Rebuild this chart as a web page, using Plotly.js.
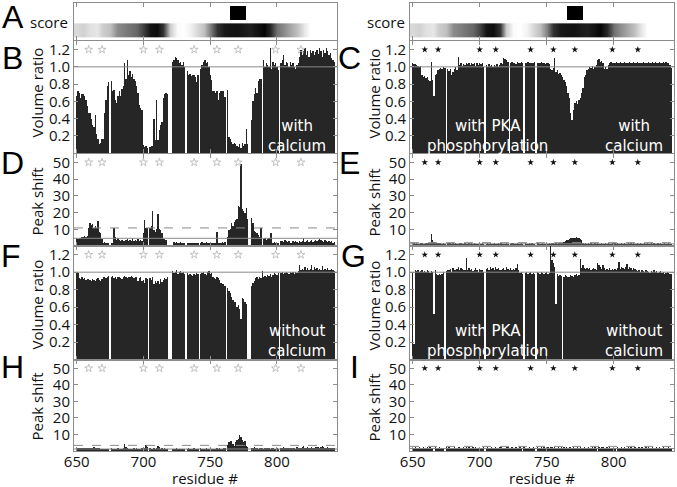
<!DOCTYPE html>
<html>
<head>
<meta charset="utf-8">
<script src="https://cdn.plot.ly/plotly-3.0.1.min.js"></script>
<style>
  body { margin: 0; background: #fff; }
  #chart { width: 677px; height: 487px; }
</style>
</head>
<body>
<div id="chart"></div>
<script>
'use strict';

// ---- data ----
const firstResidue = 650;

// A: sequence score along the construct, sampled every 5 residues (0 = white, 1 = black)
const scoreResidues = [650,655,660,665,670,675,680,685,690,695,700,705,710,715,720,725,730,735,740,745,
                       750,755,760,765,770,775,780,785,790,795,800,805,810,815,820,825,830,835,840];
const scoreValues = [0.15,0.18,0.12,0.10,0.20,0.25,0.45,0.50,0.55,0.60,0.75,0.92,0.95,0.80,0.20,0.02,0.00,0.05,0.15,0.25,
                     0.50,0.80,0.90,0.92,0.93,0.90,0.88,0.93,0.98,0.85,0.55,0.45,0.35,0.25,0.10,0.00,0.00,0.00,0.00];
const motifSpan = [765, 777];

// sites marked with stars
const starResidues = [659, 669, 700, 712, 738, 755, 771, 799, 818];

// B: volume ratio, with calcium (residues 650..843)
const volWithCa = [
  0.66,0.72,0.70,0.64,0.68,0.69,0.66,0.62,0.55,0.46,
  0.46,0.40,0.33,0.30,0.44,0.22,0.16,0.10,0.12,0.16,
  0.16,0.46,0.62,0.78,0.82,null,0.84,0.72,0.73,0.62,
  0.58,0.66,0.72,0.66,0.74,0.78,1.04,0.86,1.08,0.90,
  0.95,0.88,0.92,0.86,0.84,0.78,0.70,0.56,0.52,0.50,
  0.09,0.07,0.08,0.06,null,0.07,0.08,0.08,0.40,0.15,
  0.62,0.15,0.27,0.33,0.36,0.64,0.68,0.70,0.69,null,
  null,null,1.06,1.08,1.12,1.10,1.08,1.04,1.06,1.02,
  1.06,1.00,null,0.95,0.90,0.92,0.89,0.90,0.90,0.88,
  0.82,0.90,null,0.98,1.02,1.06,1.08,1.04,1.06,1.00,
  0.90,0.85,0.72,0.72,0.70,0.72,0.62,0.70,0.72,0.72,
  0.72,0.65,null,0.73,0.19,0.16,0.13,0.11,0.12,0.10,
  0.08,0.07,0.10,0.06,0.12,0.08,0.11,0.28,0.10,null,
  null,0.38,0.60,0.68,0.76,0.70,0.84,0.86,0.86,null,
  1.08,1.00,1.04,1.02,1.00,1.22,0.98,1.06,1.02,1.04,
  1.00,0.96,null,1.04,1.08,1.14,1.02,1.06,1.04,1.00,
  1.06,1.02,1.04,1.00,0.98,1.02,1.04,1.12,1.20,1.14,
  1.18,1.22,1.14,1.18,1.12,1.20,1.16,1.18,1.14,1.17,
  1.19,1.15,1.22,1.18,1.12,1.20,1.16,1.22,1.18,1.14,
  1.16,1.10,1.08,1.06
];

// C: volume ratio, PKA phosphorylated, with calcium
const volPkaWithCa = [
  1.04,1.03,1.03,1.02,1.01,1.00,1.01,0.90,0.88,0.89,
  0.87,0.88,0.85,0.84,1.06,0.85,0.66,0.90,0.92,0.96,
  0.98,0.99,0.98,1.00,0.99,null,0.97,0.95,0.98,0.90,
  0.94,0.98,1.00,0.96,1.12,1.02,1.04,1.01,1.03,1.02,
  1.04,1.03,1.05,1.02,1.04,1.03,1.05,1.01,1.04,1.02,
  1.05,1.03,1.04,1.00,null,1.02,1.00,1.03,1.01,1.02,
  1.00,1.02,1.01,1.03,1.00,1.02,1.04,1.03,1.10,1.09,
  1.08,1.06,null,1.05,1.06,1.04,1.05,1.03,1.06,1.05,
  1.04,1.06,1.05,null,1.05,1.04,1.06,1.05,1.04,1.05,
  1.04,1.06,null,1.05,1.04,1.05,1.06,1.04,1.05,1.03,
  1.04,1.05,1.03,0.98,0.96,0.99,1.10,0.94,0.96,0.92,
  0.93,0.90,0.88,0.85,0.82,0.78,0.70,0.64,0.46,0.38,
  0.50,0.58,0.60,0.57,0.62,0.64,0.70,0.76,0.88,0.90,
  0.96,0.98,1.00,0.99,1.01,0.98,1.00,1.02,1.08,1.09,
  1.06,1.07,1.04,0.98,1.00,0.97,1.02,1.05,1.06,1.04,
  1.05,1.04,1.06,1.05,1.04,1.06,1.05,1.04,1.06,1.05,
  1.04,1.05,1.06,1.04,1.05,1.06,1.05,1.04,1.06,1.05,
  1.05,1.04,1.06,1.05,1.04,1.05,1.06,1.05,1.04,1.06,
  1.05,1.06,1.04,1.05,1.06,1.05,1.04,1.06,1.05,1.06,
  1.05,1.04,1.02,0.99
];

// D: peak shift, with calcium
const shiftWithCa = [
  4.5,4.0,5.0,4.5,5.5,5.5,6.0,5.5,6.0,11.0,
  13.5,12.5,13.0,11.0,12.0,10.5,15.0,8.5,8.0,4.0,
  2.0,2.5,1.5,2.0,1.5,null,2.0,2.0,10.5,5.5,
  3.5,5.0,3.5,3.0,3.5,3.0,3.0,3.5,4.0,3.0,
  3.5,3.0,4.5,3.0,3.5,3.0,4.0,3.0,3.5,3.0,
  8.0,15.5,11.0,10.5,null,11.0,12.0,21.0,9.5,8.5,
  10.0,19.0,10.0,9.5,8.0,4.0,4.0,3.5,null,null,
  null,null,null,2.5,2.0,2.5,2.0,1.8,2.5,2.0,
  1.8,2.0,null,1.5,2.0,1.5,1.8,1.5,2.0,1.5,
  2.0,1.8,null,2.0,2.5,1.5,2.0,2.5,2.0,1.5,
  1.5,2.0,1.5,1.5,2.0,8.5,2.0,1.5,2.0,2.5,
  2.0,2.5,null,5.5,9.5,10.0,13.5,12.0,14.5,15.5,
  16.0,24.0,23.5,49.0,22.0,21.0,20.0,22.5,16.0,null,
  null,16.5,14.0,9.0,8.5,8.0,6.5,5.5,11.0,null,
  4.0,4.5,3.5,4.0,5.0,8.0,7.5,2.0,2.5,1.5,
  2.0,1.5,null,3.0,3.0,2.5,3.5,3.0,2.5,3.0,
  2.0,1.5,3.0,2.5,3.0,2.5,2.0,3.0,2.5,3.0,
  4.5,2.5,3.0,3.5,2.5,3.0,3.5,2.5,3.0,3.5,
  3.0,3.5,4.0,3.5,3.0,2.5,3.5,3.0,2.5,3.0,
  2.5,3.0,2.0,2.5
];

// E: peak shift, PKA phosphorylated, with calcium
const shiftPkaWithCa = [
  1.2,1.5,1.3,1.6,1.4,1.2,1.5,1.8,1.4,1.3,
  1.6,1.5,1.8,2.0,7.0,3.5,2.2,1.8,2.0,1.6,
  1.5,1.8,1.4,1.6,1.3,null,1.5,1.7,1.6,1.4,
  1.5,1.3,1.6,1.4,1.2,1.5,1.7,1.4,1.3,1.6,
  1.4,1.2,1.5,1.3,1.6,1.4,1.5,1.3,1.2,1.4,
  1.6,1.3,1.5,1.4,null,1.2,1.5,1.3,1.6,1.4,
  1.3,1.5,1.2,1.4,1.6,1.3,1.5,1.4,1.2,1.3,
  1.5,1.4,null,1.3,1.5,1.6,1.4,1.2,1.5,1.3,
  1.4,1.6,1.3,null,1.5,1.4,1.2,1.6,1.3,1.5,
  1.4,1.3,null,1.5,1.6,1.4,1.3,1.5,1.2,1.4,
  1.6,1.3,1.5,1.4,1.7,1.5,1.3,1.6,1.4,1.5,
  1.6,1.8,2.0,2.5,3.0,3.8,3.5,4.2,4.6,4.8,
  5.0,4.8,5.2,5.0,4.6,4.4,3.5,1.5,1.3,1.6,
  1.4,1.5,1.3,1.6,1.4,1.2,1.5,1.3,1.6,1.4,
  1.3,1.5,1.4,1.2,1.6,1.3,1.5,1.4,1.3,1.5,
  1.4,1.6,1.3,1.5,1.2,1.4,1.6,1.3,1.5,1.4,
  1.3,1.5,1.4,1.6,1.2,1.5,1.3,1.4,1.6,1.3,
  1.5,1.4,1.2,1.6,1.3,1.5,1.4,1.3,1.6,1.4,
  1.5,1.3,1.4,1.6,1.2,1.5,1.4,1.3,1.5,1.4,
  1.3,1.5,1.4,1.2
];

// F: volume ratio, without calcium
const volNoCa = [
  1.00,0.99,0.93,0.92,0.94,0.92,0.93,0.91,0.92,0.92,
  0.91,0.90,0.92,0.91,0.90,0.92,0.93,0.91,0.90,0.92,
  0.94,0.95,0.93,0.95,0.96,null,0.95,0.96,0.93,0.94,
  0.92,0.94,0.95,0.93,0.92,0.94,0.96,0.95,0.93,0.94,
  0.95,0.96,0.94,0.93,0.95,0.94,0.90,0.93,0.94,0.90,
  0.91,0.88,0.93,0.92,null,0.93,0.91,0.94,0.87,0.90,
  0.88,0.90,0.86,0.92,0.89,0.91,0.93,0.92,0.94,null,
  null,null,1.01,0.99,1.00,1.02,0.98,1.00,1.01,0.99,
  1.00,0.98,null,0.99,0.97,0.98,0.97,0.96,0.98,0.97,
  0.99,0.98,null,0.98,0.99,1.00,0.98,0.97,1.00,1.01,
  0.98,0.99,0.94,0.93,0.92,0.94,0.93,0.91,0.88,0.86,
  0.86,0.84,null,0.82,0.78,0.76,0.72,0.68,0.66,0.66,
  0.60,0.62,0.58,0.46,0.70,0.69,0.66,0.64,null,null,
  null,0.84,0.88,0.90,0.93,0.94,0.92,0.95,0.93,1.01,
  0.94,0.96,0.95,0.97,0.96,0.98,0.95,0.97,0.99,0.98,
  0.97,0.99,null,0.99,1.00,0.98,0.99,1.00,0.99,0.98,
  1.00,0.99,1.00,0.98,1.00,0.99,1.01,1.08,1.02,1.04,
  1.02,1.06,1.03,1.05,1.02,1.04,1.08,1.03,1.06,1.04,
  1.05,1.02,1.04,1.03,1.07,1.02,1.04,1.03,1.05,1.02,
  1.03,1.04,1.02,1.01
];

// G: volume ratio, PKA phosphorylated, without calcium
const volPkaNoCa = [
  1.00,0.18,1.02,1.01,1.02,1.00,1.01,1.02,1.00,1.01,
  1.00,1.02,1.01,0.99,1.01,1.00,0.52,1.02,0.98,0.97,
  0.98,0.97,0.98,1.00,null,1.01,1.03,1.02,1.04,1.00,
  1.05,1.03,1.02,1.04,1.06,1.02,1.05,1.04,1.03,1.02,
  1.16,1.03,1.05,1.02,1.04,1.01,1.03,1.05,1.02,1.00,
  1.04,1.02,1.03,1.00,null,1.04,1.05,1.03,1.06,1.04,
  1.05,1.03,1.06,1.04,1.05,1.03,1.02,1.04,1.05,1.03,
  1.06,1.04,1.02,1.05,1.03,1.04,1.02,1.05,1.09,1.03,
  0.99,1.00,0.98,null,0.99,1.00,0.98,0.99,1.00,0.98,
  0.99,0.98,null,1.00,0.99,0.98,1.00,0.99,0.98,0.99,
  1.00,0.98,0.99,1.35,1.14,1.10,1.06,0.64,0.98,0.96,
  0.97,0.96,null,0.95,0.97,0.96,0.94,0.95,0.97,0.96,
  0.95,0.97,0.98,0.96,0.97,1.15,1.05,1.08,1.05,1.04,
  1.05,1.04,1.05,1.03,1.04,1.05,1.04,1.03,1.10,1.08,
  1.06,1.04,1.08,1.05,1.03,1.04,1.02,1.05,1.03,1.04,
  1.02,1.04,1.03,1.05,1.12,1.04,1.06,1.05,1.04,1.06,
  1.09,1.04,1.06,1.05,1.03,1.05,1.04,1.02,1.01,1.02,
  1.00,1.02,1.01,1.00,1.02,1.01,1.00,0.99,1.01,1.00,
  1.02,1.00,1.01,0.99,1.00,1.01,0.99,1.00,0.98,0.99,
  1.00,0.99,0.98,0.98
];

// H: peak shift, without calcium
const shiftNoCa = [
  1.5,1.8,1.6,1.9,1.7,2.0,1.8,1.6,2.1,1.9,
  1.7,2.0,1.8,2.2,1.9,1.8,2.0,1.6,1.2,1.0,
  1.3,1.1,1.5,1.2,1.4,null,1.6,1.3,1.5,1.2,
  1.4,1.6,1.3,1.2,1.5,1.8,4.2,2.5,1.6,1.4,
  1.2,1.5,1.3,1.6,1.4,1.7,1.3,1.5,1.2,1.8,
  2.0,1.6,3.8,2.2,null,1.9,1.5,1.3,1.8,1.4,
  1.6,2.8,2.2,1.4,1.6,1.2,1.9,1.5,1.3,null,
  null,null,1.2,1.5,1.3,1.6,1.2,1.4,1.1,1.3,
  1.5,1.2,null,1.4,1.6,1.3,1.2,1.5,1.8,1.4,
  1.2,1.5,null,1.6,1.3,1.2,1.5,1.7,1.3,1.4,
  1.6,1.2,1.5,1.3,1.2,1.8,1.4,1.6,1.3,1.5,
  1.8,1.6,null,3.5,5.2,5.8,6.0,4.2,3.2,5.5,
  6.8,7.5,9.8,8.5,6.5,5.2,6.0,3.2,2.2,null,
  null,2.0,1.8,2.2,1.6,1.9,1.5,1.8,1.6,2.0,
  1.5,1.8,1.6,2.1,1.9,1.4,1.6,1.8,1.5,1.3,
  1.7,1.5,null,1.6,1.9,2.2,1.8,1.6,2.0,1.7,
  1.9,1.6,2.0,1.8,1.5,2.2,1.9,1.6,2.1,2.4,
  3.0,2.0,1.8,2.2,1.6,1.9,2.3,1.7,2.0,2.4,
  2.6,2.2,1.9,2.5,2.8,2.3,2.0,1.8,2.4,2.1,
  1.8,2.0,1.6,1.9
];

// I: peak shift, PKA phosphorylated, without calcium
const shiftPkaNoCa = [
  2.0,1.8,2.2,2.1,1.9,2.3,2.0,1.8,2.4,2.1,
  1.9,2.2,2.0,2.5,1.8,2.1,null,2.3,2.0,1.9,
  2.2,2.0,1.8,2.1,null,2.3,1.9,2.2,2.0,1.8,
  2.1,2.4,2.0,1.9,2.2,2.6,2.1,1.9,2.3,2.0,
  2.2,1.8,2.5,2.1,1.9,2.2,2.0,2.3,1.8,2.1,
  2.3,2.0,1.9,2.2,null,2.1,2.4,1.9,2.0,2.2,
  1.8,2.1,2.3,2.0,1.9,2.2,2.5,2.0,1.8,2.1,
  2.2,2.4,2.0,1.9,2.3,2.1,2.0,2.2,1.9,2.1,
  2.3,2.0,null,2.2,1.9,2.1,2.0,2.4,2.1,1.9,
  2.2,2.0,null,2.5,2.1,1.9,2.2,2.0,2.3,2.1,
  2.0,2.2,1.9,2.6,2.3,2.0,2.2,1.9,2.1,2.3,
  2.0,2.2,1.8,2.4,2.1,2.3,2.0,2.5,2.2,2.0,
  2.3,2.1,1.9,2.2,2.0,2.4,2.1,1.9,2.2,2.0,
  2.1,2.3,2.0,1.9,2.2,2.0,2.4,2.1,null,2.2,
  2.0,2.3,2.5,2.1,1.9,2.2,2.0,2.3,2.1,1.9,
  2.2,2.0,null,2.4,2.1,1.9,2.3,2.0,2.2,2.1,
  1.9,2.2,2.0,2.3,2.1,2.0,2.2,1.9,2.1,2.3,
  2.0,2.2,2.1,1.9,2.3,2.0,2.2,2.1,2.0,2.3,
  2.1,1.9,2.2,2.0,2.3,2.1,2.0,2.2,1.9,2.1,
  2.0,2.2,2.1,1.9
];

// reference lines: [solid mean, dashed cutoff] for peak shift panels D, E, H, I
const shiftLines = [[4.6, 10.8], [1.3, 2.0], [1.2, 3.4], [1.5, 2.8]];
const volumeRef = 1.0;

const residues = volWithCa.map((_, i) => firstResidue + i);

// ---- layout helpers ----
const W = 677, H = 487;
const xRange = [648, 845];
const colPx = [[74, 337], [410, 674]];
const rowPx = [[3, 40], [41, 153], [154, 246], [246, 359.5], [360, 451]];
const px = v => v / W;
const py = v => 1 - v / H;

const tickFont = {family: 'Open Sans, DejaVu Sans, sans-serif', size: 15, color: '#111'};
const frame = {showline: true, mirror: 'ticks', linecolor: '#8c8c8c', linewidth: 1,
               ticks: 'inside', ticklen: 4, tickcolor: '#8c8c8c', zeroline: false, showgrid: false,
               fixedrange: true, tickfont: tickFont};

const layout = {
  width: W, height: H,
  margin: {l: 0, r: 0, t: 0, b: 0},
  paper_bgcolor: '#fff', plot_bgcolor: '#fff',
  showlegend: false,
  bargap: 0,
  font: {family: 'Open Sans, DejaVu Sans, sans-serif', color: '#111'},
  shapes: [], annotations: []
};

function axName(n) { return n === 1 ? '' : String(n); }

for (let r = 0; r < 5; r++) {
  for (let c = 0; c < 2; c++) {
    const n = r * 2 + c + 1;
    const s = axName(n);
    layout['xaxis' + s] = Object.assign({}, frame, {
      domain: [px(colPx[c][0]), px(colPx[c][1])],
      range: xRange, anchor: 'y' + s,
      tickvals: [650, 700, 750, 800],
      showticklabels: r === 4,
      ticklabelstandoff: -3
    });
    const y = Object.assign({}, frame, {
      domain: [py(rowPx[r][1]), py(rowPx[r][0])], anchor: 'x' + s
    });
    if (r === 0) { y.range = [0, 1]; y.tickvals = []; y.showticklabels = false; }
    else if (r % 2 === 1) { y.range = [0, 1.3]; y.tickvals = [0.2, 0.4, 0.6, 0.8, 1.0, 1.2]; y.tickformat = '.1f'; }
    else { y.range = [0, 55]; y.tickvals = [10, 20, 30, 40, 50]; }
    layout['yaxis' + s] = y;
  }
}

const traces = [];

// score strips and motif box (panel A, both columns)
[1, 2].forEach(n => {
  const s = axName(n);
  traces.push({
    type: 'heatmap', x: scoreResidues, y: [0.07, 0.45], z: [scoreValues],
    zmin: 0, zmax: 1, zsmooth: 'best', showscale: false,
    colorscale: [[0, '#ffffff'], [1, '#000000']],
    xaxis: 'x' + s, yaxis: 'y' + s, hoverinfo: 'skip'
  });
  traces.push({
    type: 'bar', x: [(motifSpan[0] + motifSpan[1]) / 2], y: [0.38], base: [0.54],
    width: [motifSpan[1] - motifSpan[0]], marker: {color: '#000'},
    xaxis: 'x' + s, yaxis: 'y' + s, hoverinfo: 'skip'
  });
});

const panels = [
  {n: 3,  data: volWithCa,      kind: 'vol',   col: 0},
  {n: 4,  data: volPkaWithCa,   kind: 'vol',   col: 1},
  {n: 5,  data: shiftWithCa,    kind: 'shift', col: 0, lines: shiftLines[0]},
  {n: 6,  data: shiftPkaWithCa, kind: 'shift', col: 1, lines: shiftLines[1]},
  {n: 7,  data: volNoCa,        kind: 'vol',   col: 0},
  {n: 8,  data: volPkaNoCa,     kind: 'vol',   col: 1},
  {n: 9,  data: shiftNoCa,      kind: 'shift', col: 0, lines: shiftLines[2]},
  {n: 10, data: shiftPkaNoCa,   kind: 'shift', col: 1, lines: shiftLines[3]}
];

panels.forEach(p => {
  const s = axName(p.n);
  traces.push({
    type: 'bar', x: residues, y: p.data, width: 1,
    marker: {color: '#262626', line: {width: 0}},
    xaxis: 'x' + s, yaxis: 'y' + s, hoverinfo: 'skip'
  });
  const starY = p.kind === 'vol' ? 1.2 : 50;
  traces.push({
    type: 'scatter', mode: 'markers', x: starResidues, y: starResidues.map(() => starY),
    marker: p.col === 0
      ? {symbol: 'star-open', size: 6, color: '#b4b4b4', line: {width: 0.8, color: '#b4b4b4'}}
      : {symbol: 'star', size: 5, color: '#111'},
    xaxis: 'x' + s, yaxis: 'y' + s, hoverinfo: 'skip', cliponaxis: false
  });
  if (p.kind === 'vol') {
    layout.shapes.push({type: 'line', xref: 'x' + s + ' domain', yref: 'y' + s,
      x0: 0, x1: 1, y0: volumeRef, y1: volumeRef, line: {color: '#8a8a8a', width: 1}});
  } else {
    layout.shapes.push({type: 'line', xref: 'x' + s + ' domain', yref: 'y' + s,
      x0: 0, x1: 1, y0: p.lines[0], y1: p.lines[0], line: {color: '#8a8a8a', width: 1}});
    layout.shapes.push({type: 'line', xref: 'x' + s + ' domain', yref: 'y' + s,
      x0: 0, x1: 1, y0: p.lines[1], y1: p.lines[1], line: {color: '#8a8a8a', width: 1, dash: 'dash'}});
  }
});

// ---- text ----
function note(text, x, y, opts) {
  layout.annotations.push(Object.assign({
    text: text, xref: 'paper', yref: 'paper', x: px(x), y: py(y),
    showarrow: false, xanchor: 'center', yanchor: 'middle',
    font: {family: 'Open Sans, DejaVu Sans, sans-serif', size: 15, color: '#111'}
  }, opts || {}));
}

const letterFont = {family: 'Liberation Sans, Arial, sans-serif', size: 32, color: '#000'};
[['A', 13, 17], ['B', 12, 58], ['C', 349, 58], ['D', 12, 163], ['E', 349, 163],
 ['F', 11, 256], ['G', 353, 256], ['H', 12, 367], ['I', 354, 367]]
  .forEach(l => note(l[0], l[1], l[2], {font: letterFont}));

[0, 337].forEach(dx => {
  note('score', 70 + dx, 22.5, {xanchor: 'right'});
  note('Volume ratio', 36.5 + dx, 93, {textangle: -90});
  note('Peak shift', 36.5 + dx, 202, {textangle: -90});
  note('Volume ratio', 36.5 + dx, 305, {textangle: -90});
  note('Peak shift', 36.5 + dx, 407, {textangle: -90});
  note('residue #', 205 + dx, 477.5);
});

const inFont = {family: 'DejaVu Sans, sans-serif', size: 15, color: '#fff'};
note('with<br>calcium', 297, 136, {font: inFont});
note('with PKA<br>phosphorylation', 487, 136, {font: inFont});
note('with<br>calcium', 634, 136, {font: inFont});
note('without<br>calcium', 297, 341, {font: inFont});
note('with PKA<br>phosphorylation', 487, 341, {font: inFont});
note('without<br>calcium', 634, 341, {font: inFont});

Plotly.newPlot('chart', traces, layout, {displayModeBar: false, staticPlot: true});
</script>
</body>
</html>
